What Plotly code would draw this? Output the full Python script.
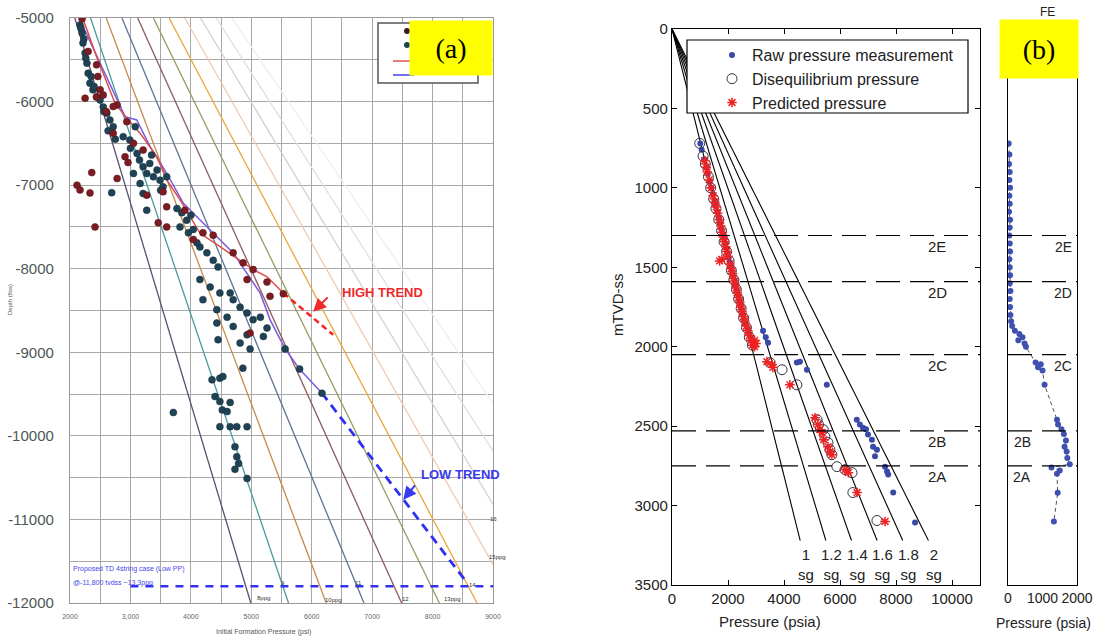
import plotly.graph_objects as go

W, H = 1099, 640
def px(x): return x / W
def py(y): return 1 - y / H

# ---------------- Panel (a) data ----------------
ppg_values = [8, 9, 10, 11, 12, 13, 14, 15, 16, 17, 18]
ppg_colors = ['#5b4f6e', '#4c9a9a', '#c48a4a', '#5f7393', '#8e5a5a', '#8fa060',
              '#e8a83a', '#f2c9b0', '#d2d2d2', '#e6dbe6', '#eeeeee']
ppg_depth_ends = [-5000, -12000]

a_xticks = [2000, 3000, 4000, 5000, 6000, 7000, 8000, 9000]
a_xtick_text = ['2000', '3,000', '4000', '5000', '6000', '7000', '8000', '9000']
a_yticks = [-12000, -11000, -10000, -9000, -8000, -7000, -6000, -5000]
a_ytick_text = ['-12000', '-11000', '-10000', '-9000', '-8000', '-7000', '-6000', '-5000']

teal_p = [2166, 2200, 2215, 2250, 2280, 2300, 2330, 2380, 2440, 2497, 2550, 2610, 2660, 2715,
          2880, 2990, 3080, 3110, 3210, 3270, 3320, 3380, 3440, 3490, 3540, 3600, 3210, 3270,
          3160, 3050, 2690, 3770, 3850, 3930, 3820, 3960, 4040, 4150, 4265, 4370, 4450, 4150,
          4320, 4480, 4650, 4700, 4815, 4930, 4200, 4430, 4600, 5030, 5150, 4430, 4700, 5260,
          5200, 4815, 4930, 4450, 4980, 4860, 4350, 4480, 4530, 4400, 4480, 4650, 4520, 4600,
          3710, 4480, 4650, 4760, 4930, 4730, 4760, 4790, 4730, 4930, 5560, 5800, 6170,
          2180, 2230, 2260, 2350, 2400, 2560, 2630, 2750, 3000, 3150, 3350, 3500, 4000, 4100]
teal_d = [-5084, -5180, -5300, -5420, -5540, -5660, -5780, -5860, -5945, -5980, -6065, -6140, -6220, -6300,
          -6420, -6460, -6300, -6620, -6780, -6860, -6740, -6900, -6820, -6940, -7020, -6900, -7100, -7300,
          -6980, -6860, -7090, -7280, -7330, -7420, -7500, -7570, -7530, -7740, -7810, -7900, -7980, -8130,
          -8220, -8290, -8290, -8370, -8460, -8530, -8370, -8490, -8580, -8610, -8580, -8650, -8690, -8710,
          -8810, -8890, -8790, -8850, -8960, -9190, -9330, -9310, -9290, -9530, -9590, -9600, -9690, -9710,
          -9720, -9890, -9890, -9890, -9890, -10130, -10250, -10330, -10400, -10510, -8960, -9200, -9490,
          -5120, -5250, -5480, -5700, -5820, -6120, -6350, -6450, -6560, -6700, -6640, -7060, -7360, -7690]

red_p = [2200, 2300, 2440, 2460, 2500, 2550, 2250, 2440, 2780, 2940, 2715, 2911, 2960, 3210,
         2360, 2780, 2116, 2166, 2331, 2414, 3270, 3540, 3600, 3460, 3600, 4040, 4200, 4370,
         4700, 4865, 5030, 5260, 5530, 5310, 4930, 4980, 2715, 2600, 3050, 3900]
red_d = [-5010, -5400, -5560, -5700, -5860, -5920, -5960, -5945, -6040, -6240, -6380, -6660, -6730, -6580,
         -6850, -6920, -7000, -7057, -7093, -7500, -7120, -7080, -7260, -7450, -7500, -7650, -7570, -7600,
         -7810, -7930, -8010, -8160, -8300, -8330, -8130, -8770, -6060, -6120, -6500, -7300]

high_trend_p = [2180, 2221, 2441, 2745, 2939, 3159, 3436, 3601, 3822, 4153, 4484, 5036, 5257, 5533]
high_trend_d = [-5000, -5024, -5463, -6019, -6199, -6378, -6659, -6937, -7177, -7576, -7735, -8014, -8094, -8293]
high_ext_p = [5533, 6355]
high_ext_d = [-8293, -8791]

low_trend_p = [2150, 2773, 2911, 3104, 3325, 3601, 3877, 4318, 4705, 5147, 5312, 5560, 5797, 6168]
low_trend_d = [-5000, -5981, -6180, -6220, -6539, -6858, -7217, -7536, -7815, -8293, -8612, -8960, -9200, -9487]
low_ext_p = [6168, 8569]
low_ext_d = [-9487, -11757]

td_p = [3000, 9000]
td_d = [-11800, -11800]

# ---------------- Panel (b) data ----------------
sg_values = [1, 1.2, 1.4, 1.6, 1.8, 2]
sg_end_depth = 3220
formation_names = ['2E', '2D', '2C', '2B', '2A']
formation_depths = [1300, 1590, 2050, 2530, 2750]
b_xticks = [0, 2000, 4000, 6000, 8000, 10000]
b_yticks = [0, 500, 1000, 1500, 2000, 2500, 3000, 3500]
fe_xticks = [0, 1000, 2000]

raw_d = [720, 760, 820, 870, 910, 960, 1000, 1040, 1080, 1110, 1150, 1190, 1220, 1260, 1290, 1320, 1350,
         1380, 1410, 1440, 1470, 1500, 1530, 1560, 1590, 1620, 1650, 1680, 1710, 1740, 1770, 1800, 1830,
         1860, 1890, 1920, 1950, 1980, 1900, 1940, 1975, 2100, 2094, 2145, 2240, 2460, 2490, 2510, 2520,
         2553, 2585, 2630, 2648, 2690, 2755, 2786, 2805, 2918, 3107]
raw_p = [1010, 1060, 1150, 1230, 1270, 1350, 1400, 1460, 1520, 1560, 1620, 1670, 1710, 1770, 1810, 1860, 1890,
         1940, 1980, 2020, 2070, 2110, 2150, 2190, 2240, 2280, 2320, 2370, 2410, 2450, 2490, 2540, 2580,
         2640, 2700, 2760, 2830, 2880, 3250, 3350, 3430, 4460, 4570, 4820, 5530, 6600, 6710, 6820, 6930,
         7000, 7140, 7180, 7320, 7250, 7610, 7680, 7720, 7900, 8680]

dis_d = [720, 800, 850, 930, 1000, 1070, 1130, 1200, 1270, 1340, 1400, 1460, 1520, 1580, 1640, 1700, 1760,
         1820, 1880, 1940, 1990, 2100, 2145, 2240, 2460, 2490, 2522, 2566, 2604, 2648, 2680, 2755, 2774,
         2793, 2918, 3094]
dis_p = [990, 1110, 1190, 1300, 1380, 1490, 1570, 1670, 1770, 1860, 1950, 2040, 2120, 2210, 2300, 2380, 2470,
         2560, 2660, 2760, 2870, 3500, 3930, 4460, 5180, 5230, 5400, 5460, 5570, 5640, 5710, 5890, 6180,
         6430, 6460, 7320]

pred_d = [830, 870, 900, 950, 1000, 1050, 1090, 1120, 1160, 1200, 1240, 1280, 1310, 1340, 1370, 1400, 1430,
          1450, 1460, 1480, 1510, 1540, 1570, 1600, 1630, 1660, 1690, 1720, 1750, 1780, 1810, 1840, 1870,
          1900, 1930, 1960, 1990, 2000, 1980, 1960, 2094, 2113, 2130, 2240, 2447, 2490, 2522, 2540, 2585,
          2630, 2660, 2680, 2774, 2793, 2918, 3100]
pred_p = [1170, 1220, 1260, 1330, 1400, 1470, 1530, 1580, 1630, 1690, 1740, 1790, 1830, 1880, 1920, 1960, 2000,
          1780, 1700, 2070, 2110, 2160, 2200, 2240, 2290, 2330, 2380, 2420, 2460, 2500, 2550, 2600, 2650,
          2710, 2760, 2820, 2880, 2950, 3000, 2950, 3390, 3570, 3600, 4210, 5110, 5210, 5280, 5360, 5420,
          5570, 5640, 5710, 6180, 6300, 6610, 7610]

fe_d = [720, 790, 850, 900, 950, 1000, 1050, 1100, 1150, 1200, 1250, 1300, 1350, 1400, 1450, 1500, 1550,
        1600, 1650, 1700, 1750, 1800, 1840, 1870, 1900, 1920, 1940, 1960, 1980, 2000, 2100, 2110, 2130,
        2150, 2240, 2460, 2490, 2520, 2550, 2590, 2630, 2660, 2700, 2740, 2760, 2780, 2800, 2920, 3100]
fe_p = [20, 40, 30, 50, 40, 60, 40, 50, 30, 60, 50, 40, 50, 60, 40, 50, 60, 50, 70, 50, 60, 70, 90, 120,
        200, 330, 420, 300, 480, 520, 800, 950, 870, 1000, 1060, 1420, 1450, 1550, 1620, 1680, 1640, 1700,
        1720, 1790, 1260, 1500, 1420, 1440, 1330]

FONT = 'Liberation Sans'
fig = go.Figure()

# ---- panel (a) traces ----
for ppg, col in zip(ppg_values, ppg_colors):
    fig.add_trace(go.Scatter(x=[0.052 * ppg * -d for d in ppg_depth_ends], y=ppg_depth_ends,
                             mode='lines', line=dict(color=col, width=1.3), showlegend=False,
                             xaxis='x', yaxis='y', hoverinfo='skip'))
fig.add_trace(go.Scatter(x=td_p, y=td_d, mode='lines', line=dict(color='#3333ee', width=2.5, dash='8px,7px'),
                         showlegend=False, xaxis='x', yaxis='y'))
fig.add_trace(go.Scatter(x=low_trend_p, y=low_trend_d, mode='lines', line=dict(color='#7a5ae0', width=1.5),
                         showlegend=False, xaxis='x', yaxis='y'))
fig.add_trace(go.Scatter(x=low_ext_p, y=low_ext_d, mode='lines', line=dict(color='#3030f5', width=2.8, dash='9px,6px'),
                         showlegend=False, xaxis='x', yaxis='y'))
fig.add_trace(go.Scatter(x=high_trend_p, y=high_trend_d, mode='lines', line=dict(color='#e04a4a', width=1.5),
                         showlegend=False, xaxis='x', yaxis='y'))
fig.add_trace(go.Scatter(x=high_ext_p, y=high_ext_d, mode='lines', line=dict(color='#ff2020', width=2.5, dash='6px,4px'),
                         showlegend=False, xaxis='x', yaxis='y'))
fig.add_trace(go.Scatter(x=teal_p, y=teal_d, mode='markers',
                         marker=dict(color='#1f4355', size=7, line=dict(color='#16303c', width=0.5)),
                         showlegend=False, xaxis='x', yaxis='y'))
fig.add_trace(go.Scatter(x=red_p, y=red_d, mode='markers',
                         marker=dict(color='#7a1c22', size=7, line=dict(color='#5a1418', width=0.5)),
                         showlegend=False, xaxis='x', yaxis='y'))

# ---- panel (b) main traces ----
for sg in sg_values:
    fig.add_trace(go.Scatter(x=[0, 1.422 * sg * sg_end_depth], y=[0, sg_end_depth], mode='lines',
                             line=dict(color='black', width=1.1), showlegend=False,
                             xaxis='x2', yaxis='y2', hoverinfo='skip'))
fig.add_trace(go.Scatter(x=raw_p, y=raw_d, mode='markers', name='Raw pressure measurement',
                         marker=dict(color='#3a48a8', size=6), xaxis='x2', yaxis='y2'))
fig.add_trace(go.Scatter(x=dis_p, y=dis_d, mode='markers', name='Disequilibrium pressure',
                         marker=dict(symbol='circle-open', color='#333340', size=10, line=dict(width=1)),
                         xaxis='x2', yaxis='y2'))
fig.add_trace(go.Scatter(x=pred_p, y=pred_d, mode='markers', name='Predicted pressure',
                         marker=dict(symbol='asterisk-open', color='#ee2222', size=8,
                                     line=dict(color='#ee2222', width=1.5)),
                         xaxis='x2', yaxis='y2'))

# ---- panel (b) FE ----
fig.add_trace(go.Scatter(x=fe_p, y=fe_d, mode='lines+markers', showlegend=False,
                         line=dict(color='#505070', width=1, dash='4px,3px'),
                         marker=dict(color='#4050b0', size=6), xaxis='x3', yaxis='y3'))

shapes = []
for d in formation_depths:
    shapes.append(dict(type='line', xref='x2 domain', yref='y2', x0=0, x1=1, y0=d, y1=d,
                       line=dict(color='black', width=1.2, dash='24px,10px')))
    shapes.append(dict(type='line', xref='x3 domain', yref='y3', x0=0, x1=1, y0=d, y1=d,
                       line=dict(color='black', width=1.2, dash='24px,10px')))
shapes.append(dict(type='rect', xref='paper', yref='paper', x0=px(687), x1=px(968), y0=py(113), y1=py(40),
                   fillcolor='white', line=dict(color='black', width=1.2), layer='above'))
shapes.append(dict(type='rect', xref='paper', yref='paper', x0=px(378), x1=px(478), y0=py(83), y1=py(23),
                   fillcolor='white', line=dict(color='#555', width=1.5), layer='above'))
shapes.append(dict(type='circle', xref='paper', yref='paper', x0=px(404), x1=px(410), y0=py(34), y1=py(28),
                   fillcolor='#3a1a22', line=dict(width=0), layer='above'))
shapes.append(dict(type='circle', xref='paper', yref='paper', x0=px(404), x1=px(410), y0=py(48), y1=py(42),
                   fillcolor='#1f4355', line=dict(width=0), layer='above'))
shapes.append(dict(type='line', xref='paper', yref='paper', x0=px(393), x1=px(414), y0=py(61), y1=py(61),
                   line=dict(color='#e05050', width=1.5), layer='above'))
shapes.append(dict(type='line', xref='paper', yref='paper', x0=px(393), x1=px(414), y0=py(75), y1=py(75),
                   line=dict(color='#4040f0', width=1.5), layer='above'))

ann = []
def note(x, y, text, size, color='#222', family=FONT, xanchor='center', yanchor='middle', **kw):
    d = dict(xref='paper', yref='paper', x=px(x), y=py(y), text=text, showarrow=False,
             xanchor=xanchor, yanchor=yanchor, font=dict(family=family, size=size, color=color))
    d.update(kw)
    ann.append(d)

note(451, 48, '(a)', 28, 'black', 'Liberation Serif', bgcolor='#ffff00', width=80, height=52)
note(1039, 49, '(b)', 28, 'black', 'Liberation Serif', bgcolor='#ffff00', width=76, height=56)

ann.append(dict(xref='x', yref='y', x=7170, y=-8290, text='<b>HIGH TREND</b>', showarrow=False,
                xanchor='center', yanchor='middle', font=dict(family=FONT, size=13, color='#ee2a2a')))
ann.append(dict(xref='x', yref='y', x=6024, y=-8516, text='', showarrow=True, arrowhead=2, arrowsize=1.3,
                arrowwidth=2, arrowcolor='#ee2a2a', ax=16, ay=-16))
ann.append(dict(xref='x', yref='y', x=8460, y=-10466, text='<b>LOW TREND</b>', showarrow=False,
                xanchor='center', yanchor='middle', font=dict(family=FONT, size=13, color='#3a3af0')))
ann.append(dict(xref='x', yref='y', x=7514, y=-10765, text='', showarrow=True, arrowhead=2, arrowsize=1.3,
                arrowwidth=2, arrowcolor='#3a3af0', ax=13, ay=-16))
note(71, 569, 'Proposed TD 4string case (Low PP)', 7, '#4444ee', xanchor='left')
note(71, 583, '@-11,800 tvdss ~13.3ppg', 7, '#4444ee', xanchor='left')
for txt, x, y in [('8ppg', 263, 598), ('9', 283, 583), ('10ppg', 333, 600), ('11', 358, 583),
                  ('12', 405, 599), ('13ppg', 452, 599), ('14', 472, 585), ('15ppg', 497, 557), ('16', 493, 519)]:
    note(x, y, txt, 6, '#333')
note(263, 632, 'Initial Formation Pressure (psi)', 7, '#555')
note(10, 300, 'Depth (ftss)', 6, '#555', textangle=-90)

for name, d in zip(formation_names, formation_depths):
    ann.append(dict(xref='paper', yref='y2', x=px(937), y=d, yshift=-11, text=name, showarrow=False,
                    xanchor='center', yanchor='middle', font=dict(family=FONT, size=15, color='#222')))
fe_label_x = [1063, 1063, 1063, 1022, 1022]
for name, d, xx in zip(formation_names, formation_depths, fe_label_x):
    ann.append(dict(xref='paper', yref='y3', x=px(xx), y=d, yshift=-11, text=name, showarrow=False,
                    xanchor='center', yanchor='middle', font=dict(family=FONT, size=14, color='#222')))
for sg in sg_values:
    ann.append(dict(xref='x2', yref='y2', x=1.422 * sg * sg_end_depth + 200, y=sg_end_depth + 25,
                    text=f'{sg:g}<br>sg', showarrow=False, yanchor='top', xanchor='center',
                    font=dict(family=FONT, size=15, color='#222')))
note(617, 305, 'mTVD-ss', 15, textangle=-90)
note(770, 621, 'Pressure (psia)', 15)
note(1043, 623, 'Pressure (psia)', 14)
note(1047, 12, 'FE', 12)

grid_col = '#a8a8a8'
fig.update_layout(
    width=W, height=H, margin=dict(l=0, r=0, t=0, b=0, autoexpand=False),
    paper_bgcolor='white', plot_bgcolor='white',
    font=dict(family=FONT),
    xaxis=dict(domain=[px(70), px(493)], range=[2000, 9000], tickvals=a_xticks, ticktext=a_xtick_text,
               showgrid=True, gridcolor=grid_col, gridwidth=1.3, zeroline=False, automargin=False,
               minor=dict(dtick=500, showgrid=True, gridcolor=grid_col, gridwidth=1.3),
               showline=True, linecolor='#999', mirror=True, linewidth=1.3,
               tickfont=dict(size=7, color='#666'), ticks='', ticklabelstandoff=6),
    yaxis=dict(domain=[py(603), py(18)], range=[-12000, -5000], tickvals=a_yticks, ticktext=a_ytick_text,
               showgrid=True, gridcolor=grid_col, gridwidth=1.3, zeroline=False, automargin=False,
               minor=dict(dtick=500, showgrid=True, gridcolor=grid_col, gridwidth=1.3),
               showline=True, linecolor='#999', mirror=True, linewidth=1.3,
               tickfont=dict(size=15, color='#4d5856'), ticks='', ticklabelstandoff=12),
    xaxis2=dict(domain=[px(672), px(980)], range=[0, 11000], tickvals=b_xticks, ticktext=[str(v) for v in b_xticks],
                showgrid=False, zeroline=False, showline=True, linecolor='black', linewidth=1.2, mirror='ticks',
                ticks='inside', ticklen=5, tickcolor='black', tickfont=dict(size=15, color='#222'),
                anchor='y2', automargin=False),
    yaxis2=dict(domain=[py(585), py(29)], range=[3500, 0], tickvals=b_yticks, ticktext=[str(v) for v in b_yticks],
                showgrid=False, zeroline=False, showline=True, linecolor='black', linewidth=1.2, mirror='ticks',
                ticks='inside', ticklen=5, tickcolor='black', tickfont=dict(size=15, color='#222'),
                anchor='x2', automargin=False),
    xaxis3=dict(domain=[px(1008), px(1077)], range=[0, 2000], tickvals=fe_xticks, ticktext=[str(v) for v in fe_xticks],
                showgrid=False, zeroline=False, showline=True, linecolor='black', linewidth=1.2, mirror=True,
                ticks='', tickfont=dict(size=14, color='#222'), anchor='y3', automargin=False),
    yaxis3=dict(domain=[py(585), py(29)], range=[3500, 0], showticklabels=False, ticks='',
                showgrid=False, zeroline=False, showline=True, linecolor='black', linewidth=1.2, mirror=True,
                anchor='x3', automargin=False),
    legend=dict(x=px(712), y=py(38), xanchor='left', yanchor='top', bgcolor='rgba(0,0,0,0)',
                borderwidth=0, font=dict(family=FONT, size=16, color='#222'), tracegroupgap=0),
    shapes=shapes, annotations=ann,
)

fig.write_html('out.html')
